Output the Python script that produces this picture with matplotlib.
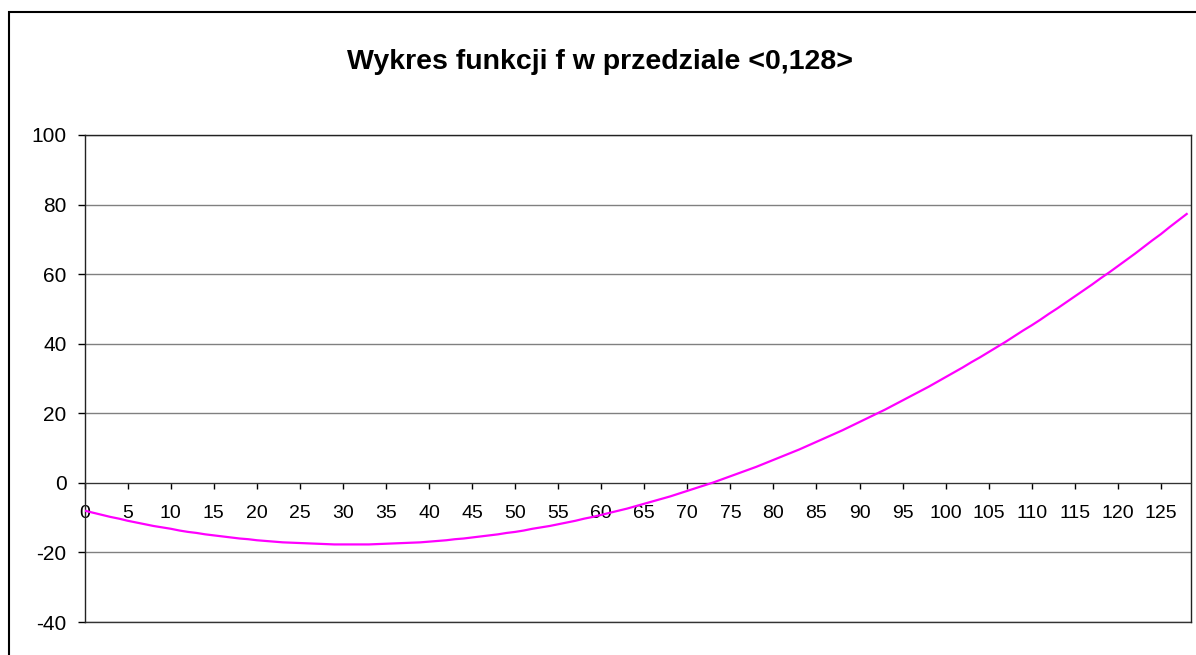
import matplotlib
matplotlib.use("Agg")
import matplotlib.pyplot as plt
from matplotlib.patches import Rectangle

# values (x = 0..128)
x_values = list(range(0, 129))
f_values = [-8.0, -8.6, -9.2, -9.8, -10.3, -10.9, -11.4, -11.9, -12.4, -12.8,
            -13.2, -13.7, -14.1, -14.4, -14.8, -15.1, -15.4, -15.7, -16.0, -16.2,
            -16.5, -16.7, -16.9, -17.1, -17.2, -17.3, -17.4, -17.5, -17.6, -17.7,
            -17.7, -17.7, -17.7, -17.7, -17.6, -17.5, -17.4, -17.3, -17.2, -17.1,
            -16.9, -16.7, -16.5, -16.2, -16.0, -15.7, -15.4, -15.1, -14.8, -14.4,
            -14.1, -13.7, -13.2, -12.8, -12.4, -11.9, -11.4, -10.9, -10.3, -9.8,
            -9.2, -8.6, -8.0, -7.4, -6.7, -6.0, -5.3, -4.6, -3.9, -3.1,
            -2.3, -1.5, -0.7, 0.1, 1.0, 1.9, 2.8, 3.7, 4.6, 5.6,
            6.6, 7.6, 8.6, 9.6, 10.7, 11.8, 12.9, 14.0, 15.1, 16.3,
            17.5, 18.7, 19.9, 21.1, 22.4, 23.7, 25.0, 26.3, 27.6, 29.0,
            30.4, 31.8, 33.2, 34.7, 36.1, 37.6, 39.1, 40.6, 42.2, 43.8,
            45.3, 46.9, 48.6, 50.2, 51.9, 53.6, 55.3, 57.0, 58.8, 60.5,
            62.3, 64.1, 65.9, 67.8, 69.7, 71.5, 73.5, 75.4, 77.3]
x_ticks = list(range(0, 126, 5))
y_ticks = [-40, -20, 0, 20, 40, 60, 80, 100]
title = "Wykres funkcji f w przedziale <0,128>"

plt.rcParams['font.family'] = ['Liberation Sans', 'DejaVu Sans']
plt.rcParams['axes.unicode_minus'] = False

fig = plt.figure(figsize=(11.96, 6.55), dpi=100)
ax = fig.add_axes([84.7 / 1196, 1 - 622 / 655, (1191 - 84.7) / 1196, (622 - 135) / 655])

# outer chart frame (right and bottom edges are outside the picture)
fig.patches.append(Rectangle((8.5 / 1196, -0.1), 1.2, 0.1 + 1 - 12 / 655,
                             transform=fig.transFigure, fill=False,
                             edgecolor='black', linewidth=1.5, clip_on=False))

fig.text(0.502, 1 - 62 / 655, title, ha='center', va='center',
         fontsize=20.5, fontweight='bold')

ax.plot(x_values, f_values, color='#FF00FF', linewidth=1.6, zorder=3)

ax.set_xlim(0, 128.5)
ax.set_ylim(-40, 100)
ax.set_yticks(y_ticks)
ax.set_xticks(x_ticks)
ax.yaxis.grid(True, color='#808080', linewidth=1.0)
ax.set_axisbelow(True)

# x axis drawn through y = 0
ax.spines['bottom'].set_position(('data', 0))
ax.spines['bottom'].set_color('#333333')
for s in ['left', 'right', 'top']:
    ax.spines[s].set_color('#222222')
    ax.spines[s].set_linewidth(1.0)

ax.tick_params(axis='y', direction='out', length=5, width=1, pad=8, labelsize=15)
ax.tick_params(axis='x', direction='out', length=4, width=1, pad=12, labelsize=14)

# bottom border of plot area at -40
ax.axhline(-40, color='#333333', linewidth=1.0, clip_on=False)

fig.savefig("out.png", dpi=100)
